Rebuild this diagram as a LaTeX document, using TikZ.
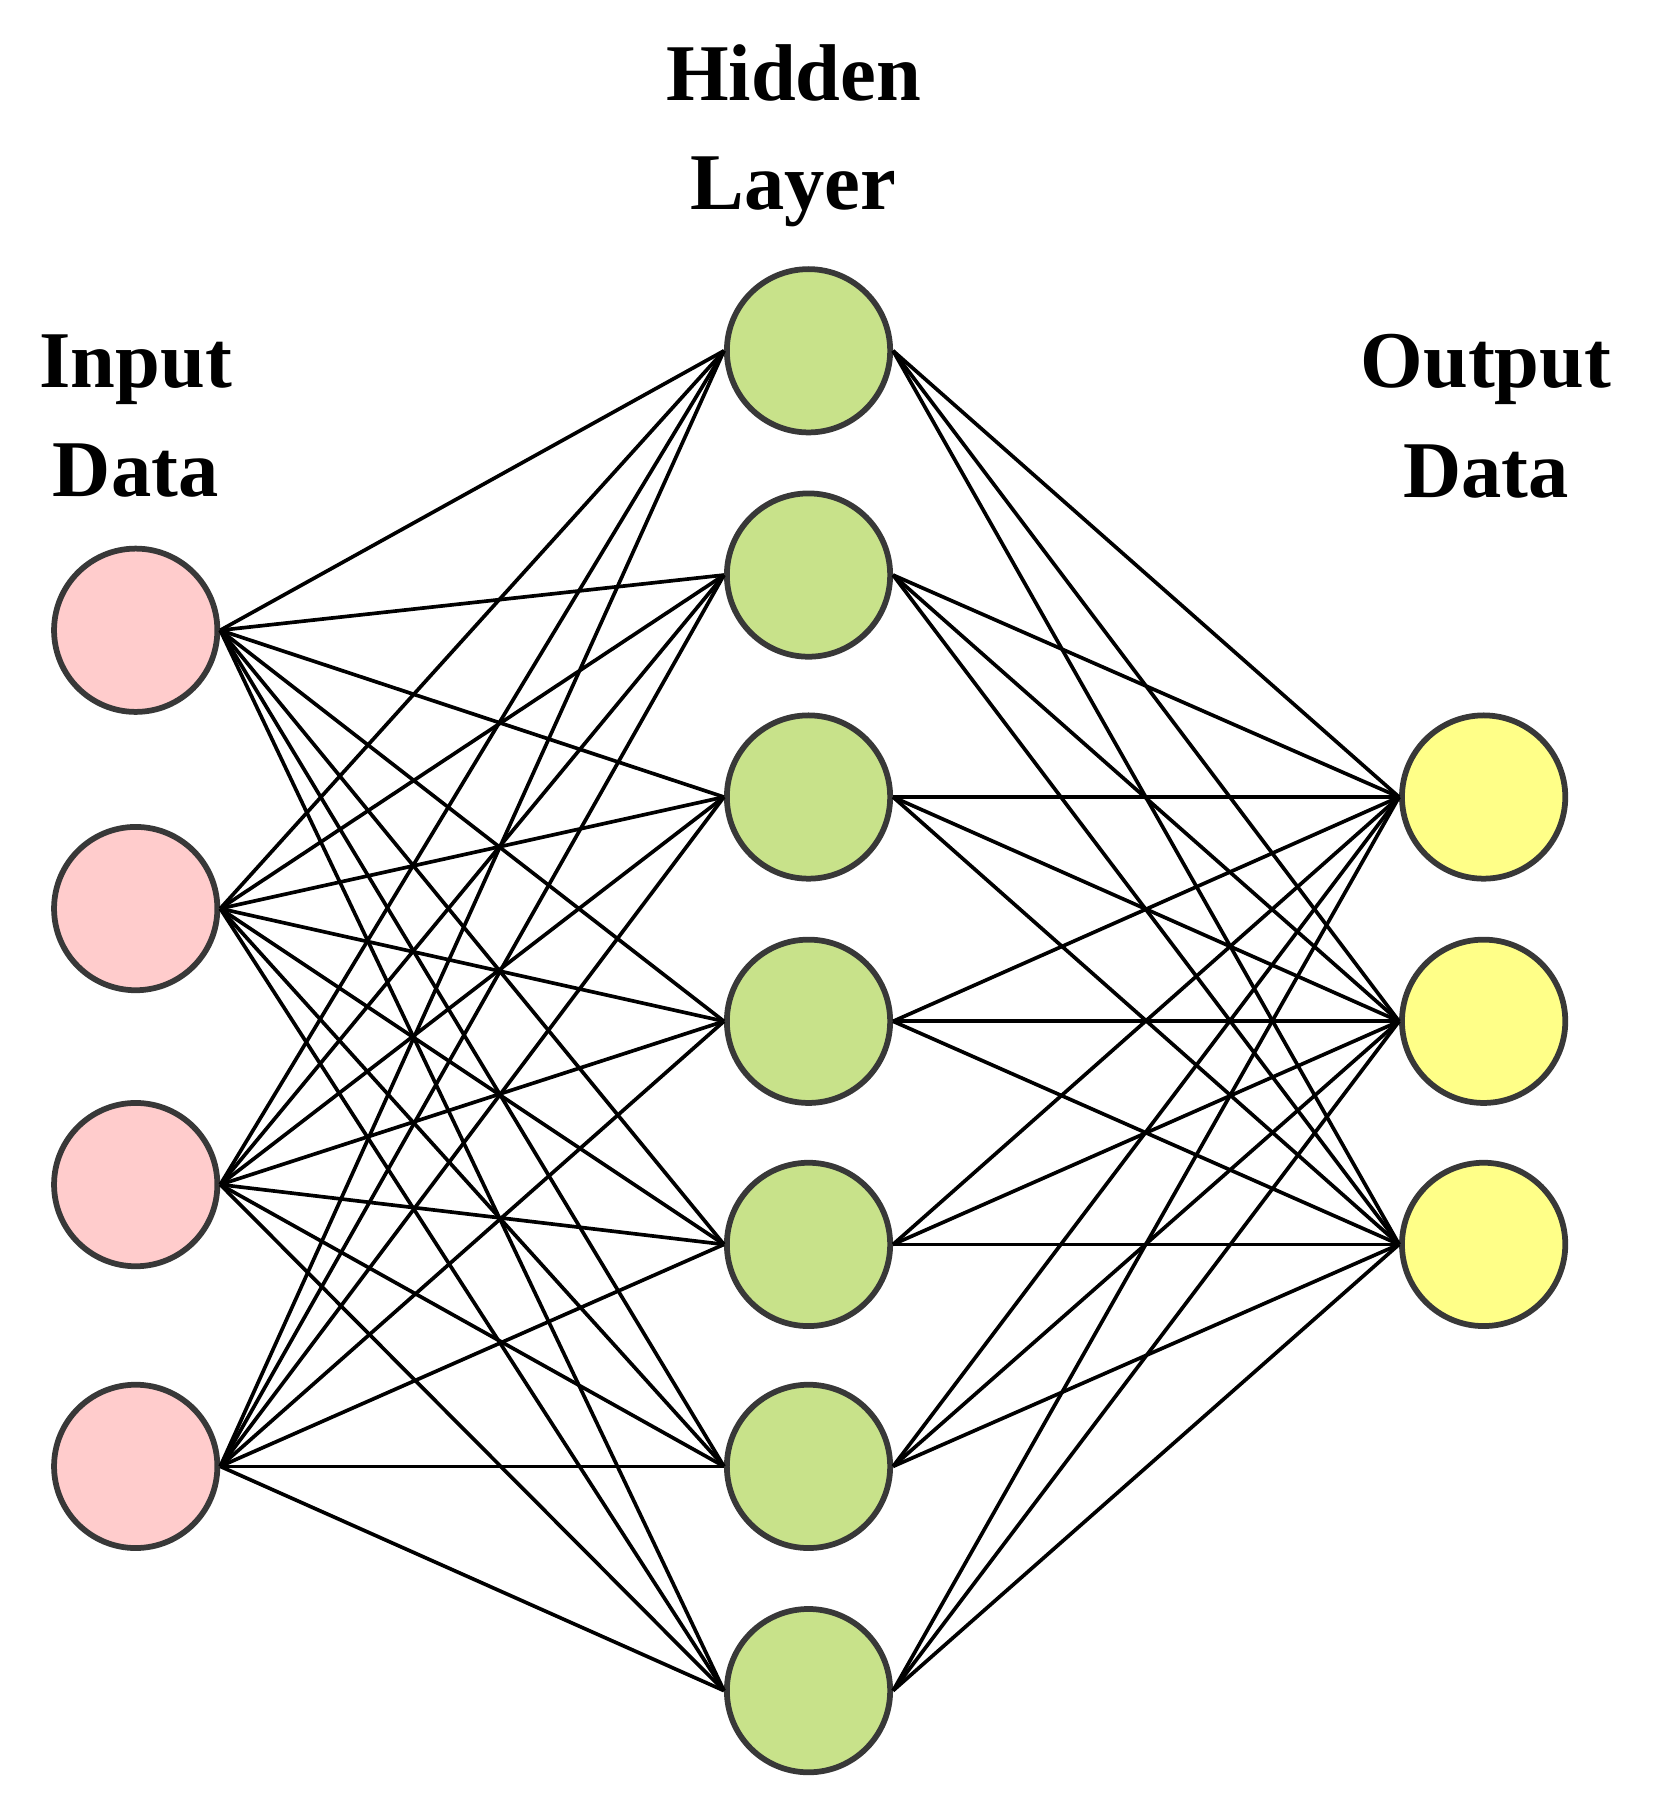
\documentclass[tikz,border=0pt]{standalone}
\usepackage{fontspec}
\setmainfont{Liberation Serif}
\begin{document}
\begin{tikzpicture}[x=1bp,y=-1bp,line join=bevel,
  neuron/.style={circle,draw=black!78,line width=5bp,minimum size=142bp,inner sep=0pt},
  inp/.style={neuron,fill=red!20},
  hid/.style={neuron,fill={rgb,255:red,200;green,226;blue,138}},
  outp/.style={neuron,fill={rgb,255:red,255;green,255;blue,136}},
  title/.style={align=center,font=\fontsize{70bp}{95bp}\selectfont\bfseries},
  link/.style={line width=3.2bp,black}]
  \useasboundingbox (0,0) rectangle (1440,1559);
%%
  % Layer titles
  \node[title] (tin) at (118,362) {Input\\Data};
  \node[title] (thid) at (690,118) {Hidden\\Layer};
  \node[title] (tout) at (1292,362) {Output\\Data};
  % Nodes: input
  \foreach \y [count=\i] in {548,790,1030,1275}
    \node[inp] (in\i) at (118,\y) {};
  % Nodes: hidden
  \foreach \y [count=\i] in {305,500,693,888,1082,1275,1470}
    \node[hid] (hid\i) at (703,\y) {};
  % Nodes: output
  \foreach \y [count=\i] in {693,888,1082}
    \node[outp] (out\i) at (1290,\y) {};
  % Edges
  \foreach \i in {1,...,4}
    \foreach \j in {1,...,7}
      \draw[link] (in\i.east) -- (hid\j.west);
  \foreach \j in {1,...,7}
    \foreach \k in {1,...,3}
      \draw[link] (hid\j.east) -- (out\k.west);
%
\end{tikzpicture}
\end{document}
